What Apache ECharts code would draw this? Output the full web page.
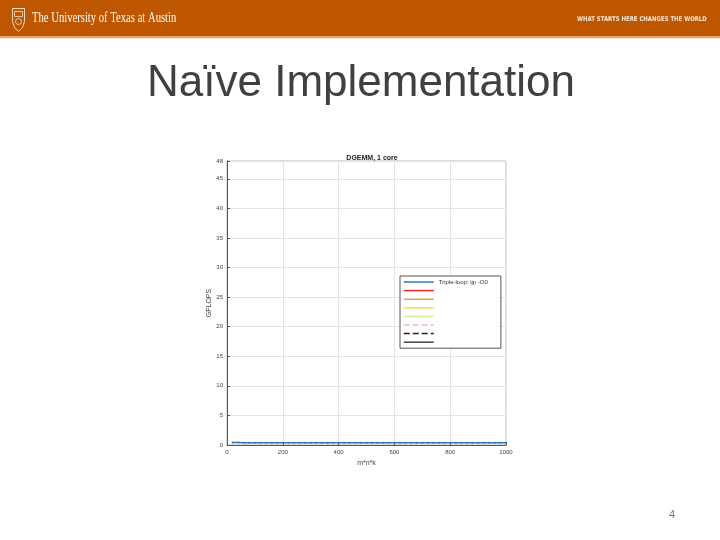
<!DOCTYPE html>
<html>
<head>
<meta charset="utf-8">
<script src="https://cdn.jsdelivr.net/npm/echarts@6/dist/echarts.min.js"></script>
<style>
html,body{margin:0;padding:0;background:#fff;}
#c{width:720px;height:540px;}
</style>
</head>
<body>
<div id="c"></div>
<script>
var slideTitle = "Naïve Implementation";
var chartTitle = "DGEMM, 1 core";
var xName = "m*n*k";
var yName = "GFLOPS";
var sizes = [20,40,60,80,100,120,140,160,180,200,220,240,260,280,300,320,340,360,380,400,420,440,460,480,500,520,540,560,580,600,620,640,660,680,700,720,740,760,780,800,820,840,860,880,900,920,940,960,980,1000];
var gflopsIjp = [0.42,0.41,0.40,0.40,0.40,0.39,0.40,0.40,0.39,0.40,0.40,0.40,0.39,0.40,0.40,0.40,0.39,0.40,0.40,0.40,0.40,0.39,0.40,0.40,0.40,0.39,0.40,0.40,0.40,0.40,0.39,0.40,0.40,0.40,0.39,0.40,0.40,0.40,0.40,0.39,0.40,0.40,0.40,0.39,0.40,0.40,0.40,0.40,0.39,0.40];
var legendNames = ["Triple-loop: ijp -O0", " ", "  ", "   ", "    ", "     ", "      ", "       "];
var legendColors = ["#2f78b8", "#e8262a", "#d9a35a", "#f0e43a", "#c8f0a0", "#f0b4dc", "#222222", "#444444"];
var legendTypes = ["solid", "solid", "solid", "solid", "solid", "dashed", "dashed", "solid"];
var yTicks = [0,5,10,15,20,25,30,35,40,45,48];

var chart = echarts.init(document.getElementById('c'), null, {renderer: 'canvas'});

var series = legendNames.map(function (n, i) {
  return {
    name: n,
    type: 'line',
    data: i === 0 ? sizes.map(function (s, k) { return [s, gflopsIjp[k]]; }) : [],
    symbol: i === 0 ? 'circle' : 'none',
    symbolSize: 2,
    showSymbol: i === 0,
    itemStyle: {color: legendColors[i]},
    lineStyle: {color: legendColors[i], width: i === 0 ? 1.5 : 1, type: legendTypes[i]},
    animation: false
  };
});

chart.setOption({
  backgroundColor: '#ffffff',
  animation: false,
  title: [{
    text: chartTitle, left: 367, top: 150, textAlign: 'center',
    textStyle: {fontFamily: 'Liberation Sans', fontSize: 7, fontWeight: 'bold', color: '#222'}
  }],
  grid: {left: 227, right: 214, top: 161, bottom: 95, show: true, borderColor: '#bbbbbb', borderWidth: 1},
  legend: {
    data: legendNames,
    orient: 'vertical',
    left: 400, top: 276,
    padding: [3, 13, 3, 3],
    borderColor: '#555', borderWidth: 1, backgroundColor: '#fff',
    itemWidth: 30, itemHeight: 6, itemGap: 2.6,
    itemStyle: {opacity: 0},
    lineStyle: {width: 1.5},
    textStyle: {fontFamily: 'Liberation Sans', fontSize: 6, color: '#333', lineHeight: 6}
  },
  xAxis: {
    type: 'value', min: 0, max: 1000, interval: 200,
    name: xName, nameLocation: 'middle', nameGap: 13,
    nameTextStyle: {fontFamily: 'Liberation Sans', fontSize: 7, color: '#444'},
    axisLine: {show: true, lineStyle: {color: '#555'}},
    axisTick: {show: true, inside: true, length: 3, lineStyle: {color: '#555'}},
    axisLabel: {fontFamily: 'Liberation Sans', fontSize: 6, color: '#444', margin: 4, formatter: function (v) { return String(v); }},
    splitLine: {show: true, lineStyle: {color: '#e4e4e4', width: 1}}
  },
  yAxis: {
    type: 'value', min: 0, max: yTicks[yTicks.length - 1], interval: 5,
    name: yName, nameLocation: 'middle', nameGap: 14, nameRotate: 90,
    nameTextStyle: {fontFamily: 'Liberation Sans', fontSize: 7, color: '#444'},
    axisLine: {show: true, lineStyle: {color: '#555'}},
    axisTick: {show: true, inside: true, length: 3, lineStyle: {color: '#555'}},
    axisLabel: {fontFamily: 'Liberation Sans', fontSize: 6, color: '#444', margin: 4, showMaxLabel: true},
    splitLine: {show: true, lineStyle: {color: '#e4e4e4', width: 1}}
  },
  series: series,
  graphic: [
    {type: 'rect', left: 0, top: 0, shape: {x: 0, y: 0, width: 720, height: 36}, style: {fill: '#bf5700'}, z: 10},
    {type: 'rect', left: 0, top: 36, shape: {x: 0, y: 0, width: 720, height: 2}, style: {fill: '#e8a56e'}, z: 10},
    {type: 'rect', left: 0, top: 38, shape: {x: 0, y: 0, width: 720, height: 1}, style: {fill: '#fbe8d6'}, z: 10},
    {type: 'polygon', left: 10, top: 6, z: 11,
      shape: {points: [[0,0],[12,0],[12,13],[10,19],[6,23],[2,19],[0,13]]},
      style: {fill: 'none', stroke: '#f4dcc4', lineWidth: 1}},
    {type: 'rect', left: 12, top: 9, shape: {x: 0, y: 0, width: 8, height: 5}, style: {fill: 'none', stroke: '#f4dcc4', lineWidth: 0.8}, z: 11},
    {type: 'circle', left: 13, top: 16, shape: {cx: 0, cy: 0, r: 3}, style: {fill: 'none', stroke: '#f4dcc4', lineWidth: 0.8}, z: 11},
    {type: 'text', x: 32, y: 11, scaleX: 0.76, z: 11,
      style: {text: 'The University of Texas at Austin', fill: '#ffffff', font: '14px "Liberation Serif"'}},
    {type: 'text', x: 577, y: 16, scaleX: 0.83, z: 11,
      style: {text: 'WHAT STARTS HERE CHANGES THE WORLD', fill: '#fbe6d2', font: 'bold 6.5px "DejaVu Sans"'}},
    {type: 'text', left: 147, top: 62, z: 11,
      style: {text: slideTitle, fill: '#404040', font: '44px "Liberation Sans"'}},
    {type: 'text', left: 669, top: 509, z: 11,
      style: {text: '4', fill: '#777777', font: '11px "Liberation Sans"'}}
  ]
});
</script>
</body>
</html>
